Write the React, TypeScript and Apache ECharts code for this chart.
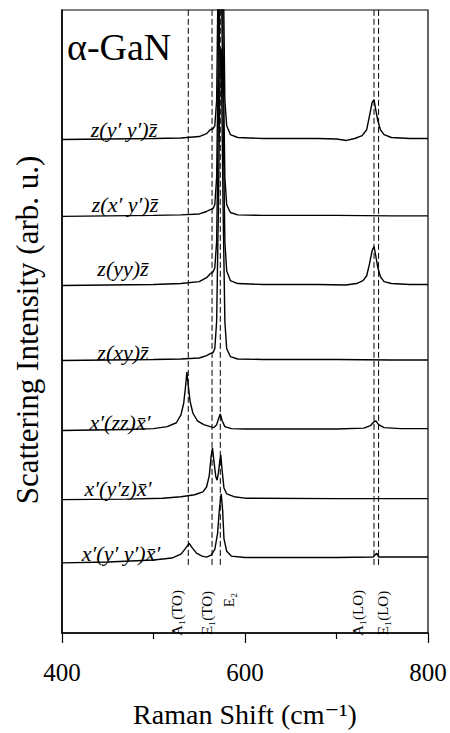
import React, { useEffect, useRef } from "react";
import * as echarts from "echarts";

// Trace labels (top to bottom)
const traceLabels = [
  "z(y′ y′)z̄",
  "z(x′ y′)z̄",
  "z(yy)z̄",
  "z(xy)z̄",
  "x′(zz)x̄′",
  "x′(y′z)x̄′",
  "x′(y′ y′)x̄′",
];

// Vertical offset of each trace (arb. u.)
const offsets = [507, 428, 357, 280, 208, 137, 72];

// Spectra: [Raman shift (cm-1), intensity above own baseline (arb. u.)]
const zYpYp: number[][] = [
  [400, 0], [450, 0.5], [500, 1], [530, 1.5], [550, 3], [558, 6], [562, 10], [565, 11], [567, 14],
  [569, 40], [571, 200], [573, 700], [574, 700], [576, 200], [578, 40], [580, 14], [584, 5], [592, 2],
  [620, 1], [680, 1], [700, 0.5], [711, -1], [720, 1], [728, 4], [733, 10], [736, 24], [739, 38],
  [741, 41], [743, 30], [745, 20], [748, 10], [752, 5], [760, 2], [780, 1], [800, 1],
];
const zXpYp: number[][] = [
  [400, 0], [450, 0.5], [500, 1], [530, 1.5], [550, 2.5], [558, 5], [562, 7], [565, 8], [567, 12],
  [569, 40], [571, 180], [573, 400], [574, 400], [576, 180], [578, 40], [580, 12], [584, 4], [592, 1.5],
  [620, 1], [700, 1], [760, 0.5], [800, 0.5],
];
const zYY: number[][] = [
  [400, 0], [450, 0.5], [500, 1], [530, 2], [550, 4], [558, 8], [562, 12], [565, 14], [567, 18],
  [569, 45], [571, 180], [573, 330], [574, 330], [576, 180], [578, 45], [580, 15], [584, 5], [592, 2],
  [620, 1], [680, 1], [710, 0.5], [722, 2], [729, 5], [733, 10], [736, 22], [739, 36], [741, 40],
  [743, 30], [745, 19], [748, 9], [752, 4], [760, 2], [780, 1], [800, 1],
];
const zXY: number[][] = [
  [400, 0], [450, 0.5], [500, 1], [530, 1.5], [550, 2.5], [558, 5], [562, 7], [565, 8], [567, 12],
  [569, 40], [571, 160], [573, 320], [574, 320], [576, 160], [578, 40], [580, 12], [584, 4], [592, 1.5],
  [620, 1], [700, 1], [760, 0.5], [800, 0.5],
];
const xpZZxp: number[][] = [
  [400, 0], [470, 1], [500, 2], [515, 4], [525, 8], [530, 16], [533, 28], [535, 45], [536.5, 60],
  [538, 46], [540, 30], [543, 18], [548, 10], [555, 6], [562, 4], [566, 3], [569, 6], [571, 12],
  [573, 17], [575, 10], [578, 4], [585, 2], [600, 1.5], [700, 1.5], [730, 2.5], [737, 5], [741, 9],
  [743, 10], [746, 6], [752, 3], [770, 2], [800, 2],
];
const xpYpZxp: number[][] = [
  [400, 0], [470, 0.5], [510, 1.5], [530, 3], [545, 5], [554, 8], [558, 13], [561, 25], [563, 45],
  [564.5, 53], [566, 40], [568, 24], [569.5, 20], [571, 28], [572.5, 40], [573.5, 46], [575, 30],
  [577, 12], [580, 6], [588, 3], [600, 1.5], [700, 1], [800, 1],
];
const xpYpYpxp: number[][] = [
  [400, 0], [450, 1], [500, 3], [520, 5], [530, 9], [535, 15], [539, 20], [542, 16], [547, 10],
  [553, 7], [558, 6], [563, 8], [567, 14], [570, 30], [572, 55], [574, 71], [575.5, 55], [577, 25],
  [580, 12], [585, 7], [600, 5.5], [700, 5.5], [740, 6], [744, 10], [746, 6], [800, 6],
];
const spectra = [zYpYp, zXpYp, zYY, zXY, xpZZxp, xpYpZxp, xpYpYpxp];

// Phonon modes (dashed guide lines) and their labels
const modePositions = [538, 564, 573, 741, 746];
const modeLabels = ["A₁(TO)", "E₁(TO)", "E₂", "A₁(LO)", "E₁(LO)"];
const modeLabelPositions = [526, 559, 582, 723.5, 751];
const modeLineRange = [70, 640];

const xMin = 400;
const xMax = 800;
const xInterval = 200;

const SERIF = "Liberation Serif, Times New Roman, DejaVu Serif, serif";

// Label layout (pixel centres on the page)
const traceLabelLayout = [
  [124, 129], [125, 204], [123, 268], [123, 352], [120, 422], [118, 488], [121, 553],
];

export default function App() {
  const ref = useRef<HTMLDivElement>(null);

  useEffect(() => {
    if (!ref.current) return;
    const chart = echarts.init(ref.current, undefined, { renderer: "svg" });

    const traceSeries = spectra.map((s, i) => ({
      type: "line",
      name: traceLabels[i],
      data: s.map(([x, y]) => [x, y + offsets[i]]),
      showSymbol: false,
      symbol: "none",
      clip: true,
      lineStyle: { color: "#000", width: 1.4 },
      z: 3,
    }));

    const modeSeries = modePositions.map((m) => ({
      type: "line",
      data: [[m, modeLineRange[0]], [m, modeLineRange[1]]],
      showSymbol: false,
      symbol: "none",
      lineStyle: { color: "#000", width: 1, type: [6, 3] },
      z: 2,
    }));

    chart.setOption({
      animation: false,
      textStyle: { fontFamily: SERIF },
      grid: {
        left: 62,
        right: 22,
        top: 10,
        bottom: 83,
        show: true,
        borderColor: "#000",
        borderWidth: 1.2,
        backgroundColor: "transparent",
      },
      xAxis: {
        type: "value",
        min: xMin,
        max: xMax,
        interval: xInterval,
        name: "Raman Shift (cm⁻¹)",
        nameLocation: "middle",
        nameGap: 67,
        nameTextStyle: { fontFamily: SERIF, fontSize: 28, color: "#000" },
        axisLine: { show: true, lineStyle: { color: "#000", width: 1.5 } },
        axisTick: { show: true, length: 10, lineStyle: { color: "#000", width: 1.2 } },
        minorTick: { show: true, splitNumber: 2, length: 6, lineStyle: { color: "#000", width: 1.2 } },
        splitLine: { show: false },
        axisLabel: { fontFamily: SERIF, fontSize: 25, color: "#000", margin: 27 },
      },
      yAxis: {
        type: "value",
        min: 0,
        max: 640,
        axisLine: { show: true, lineStyle: { color: "#000", width: 1.5 } },
        axisTick: { show: false },
        axisLabel: { show: false },
        splitLine: { show: false },
      },
      series: [...modeSeries, ...traceSeries],
    });

    const graphics: any[] = [];
    graphics.push({
      type: "text",
      x: 67,
      y: 47,
      style: {
        text: "α-GaN",
        fontFamily: SERIF,
        fontSize: 38,
        fill: "#000",
        textAlign: "left",
        textVerticalAlign: "middle",
      },
    });
    graphics.push({
      type: "text",
      x: 27,
      y: 330,
      rotation: Math.PI / 2,
      style: {
        text: "Scattering Intensity (arb. u.)",
        fontFamily: SERIF,
        fontSize: 31,
        fill: "#000",
        textAlign: "center",
        textVerticalAlign: "middle",
      },
    });
    traceLabels.forEach((t, i) => {
      graphics.push({
        type: "text",
        x: traceLabelLayout[i][0],
        y: traceLabelLayout[i][1],
        style: {
          text: t,
          fontFamily: SERIF,
          fontStyle: "italic",
          fontSize: 22,
          fill: "#000",
          textAlign: "center",
          textVerticalAlign: "middle",
        },
      });
    });
    modeLabels.forEach((t, i) => {
      const p = chart.convertToPixel({ gridIndex: 0 }, [modeLabelPositions[i], 0]);
      const isShort = t.length < 4;
      graphics.push({
        type: "text",
        x: p[0],
        y: isShort ? 600 : 613,
        rotation: Math.PI / 2,
        style: {
          text: t,
          fontFamily: SERIF,
          fontSize: 15,
          fill: "#000",
          textAlign: "center",
          textVerticalAlign: "middle",
        },
      });
    });
    chart.setOption({ graphic: graphics });

    return () => chart.dispose();
  }, []);

  return (
    <div
      ref={ref}
      style={{ position: "absolute", left: 0, top: 0, width: 450, height: 733, background: "#fff" }}
    />
  );
}
